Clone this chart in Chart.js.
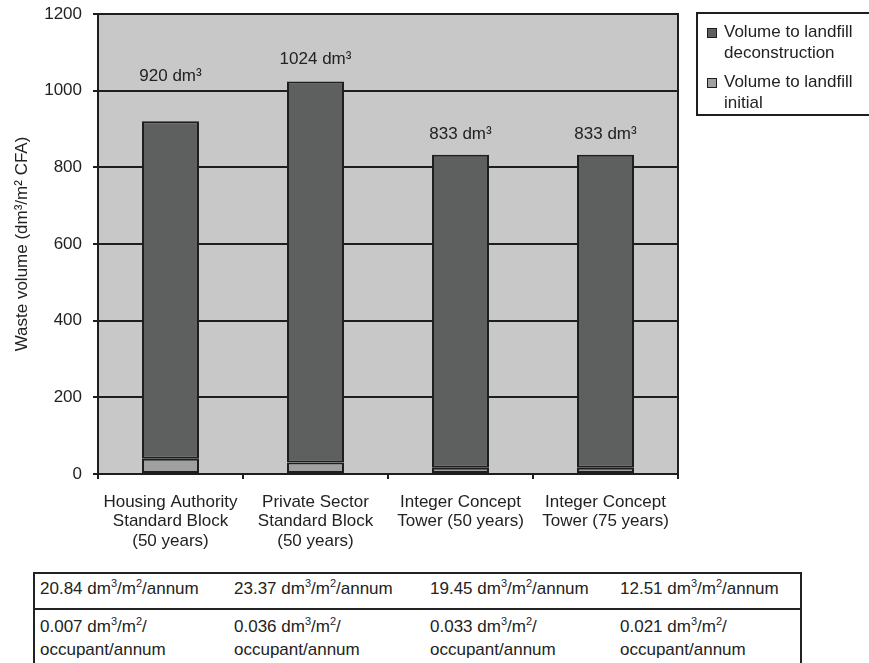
<!DOCTYPE html>
<html>
<head>
<meta charset="utf-8">
<title>Waste volume to landfill</title>
<script src="https://cdn.jsdelivr.net/npm/chart.js@4.4.0/dist/chart.umd.min.js"></script>
<style>
    html, body { margin: 0; padding: 0; background: #fff; }
    #page {
        width: 869px; height: 663px; overflow: hidden; position: relative;
        font-family: "Liberation Sans", Arial, Helvetica, sans-serif; color: #222;
    }
    #chartBox { position: absolute; left: 0; top: 0; width: 869px; height: 560px; }

    /* per-annum figures under the chart */
    #stats {
        position: absolute; left: 33px; top: 572px; width: 765px; height: 120px;
        border: 2px solid #222; font-size: 17px;
    }
    #stats .row { display: flex; }
    #stats .r1 { height: 29px; padding-top: 5px; line-height: 20px; border-bottom: 2px solid #222; }
    #stats .r2 { padding-top: 6px; line-height: 21px; }
    #stats .cell { padding-left: 5px; box-sizing: border-box; white-space: nowrap; }
</style>
</head>
<body>
<div id="page">
    <div id="chartBox"><canvas id="wasteChart" width="869" height="560"></canvas></div>
    <div id="stats"></div>
</div>

<script>
// Buildings compared
const buildings = [
    ['Housing Authority', 'Standard Block', '(50 years)'],
    ['Private Sector', 'Standard Block', '(50 years)'],
    ['Integer Concept', 'Tower (50 years)'],
    ['Integer Concept', 'Tower (75 years)']
];

// Waste volume, dm³/m² CFA
const initialVolume = [40, 30, 16, 16];
const deconstructionVolume = [880, 994, 817, 817];

// Figures listed under each building
const annualRate = ['20.84', '23.37', '19.45', '12.51'];
const occupantRate = ['0.007', '0.036', '0.033', '0.021'];

const yTicks = [0, 200, 400, 600, 800, 1000, 1200];

const colors = {
    plot: '#c8c8c8',
    deconstruction: '#5d605e',
    initial: '#a0a0a0',
    line: '#1e1e1e',
    text: '#222222'
};

const FONT = '"Liberation Sans", Arial, Helvetica, sans-serif';

// Legend entries (two lines each)
const legendItems = [
    { color: colors.deconstruction, lines: ['Volume to landfill', 'deconstruction'] },
    { color: colors.initial, lines: ['Volume to landfill', 'initial'] }
];

// Table of rates under the chart
const colWidths = [194, 196, 190, 185];
const sup = s => `<span style="font-size:11px;position:relative;top:-7px;">${s}</span>`;
document.getElementById('stats').innerHTML =
    '<div class="row r1">' + annualRate.map((v, i) =>
        `<div class="cell" style="width:${colWidths[i]}px">${v} dm${sup(3)}/m${sup(2)}/annum</div>`).join('') + '</div>' +
    '<div class="row r2">' + occupantRate.map((v, i) =>
        `<div class="cell" style="width:${colWidths[i]}px">${v} dm${sup(3)}/m${sup(2)}/<br>occupant/annum</div>`).join('') + '</div>';

// Grey plot background and frame
const plotFrame = {
    id: 'plotFrame',
    beforeDraw(chart) {
        const { ctx, chartArea: a } = chart;
        ctx.save();
        ctx.fillStyle = colors.plot;
        ctx.fillRect(a.left, a.top, a.right - a.left, a.bottom - a.top);
        ctx.restore();
    },
    afterDatasetsDraw(chart) {
        const { ctx, chartArea: a } = chart;
        ctx.save();
        ctx.strokeStyle = colors.line;
        ctx.lineWidth = 2;
        ctx.strokeRect(a.left, a.top, a.right - a.left, a.bottom - a.top);
        ctx.restore();
    }
};

// Boxed legend to the right of the plot, running off the canvas edge
const boxLegend = {
    id: 'boxLegend',
    afterDraw(chart) {
        const { ctx, chartArea: a } = chart;
        const left = a.right + 18, top = 12;
        ctx.save();
        ctx.strokeStyle = colors.line;
        ctx.lineWidth = 2;
        ctx.strokeRect(left + 1, top + 1, 300, 102);
        ctx.font = '17px ' + FONT;
        ctx.textBaseline = 'alphabetic';
        let y = top + 25;
        legendItems.forEach(item => {
            ctx.fillStyle = item.color;
            ctx.fillRect(left + 11, y - 9, 10, 10);
            ctx.lineWidth = 1;
            ctx.strokeRect(left + 11.5, y - 8.5, 9, 9);
            ctx.fillStyle = colors.text;
            item.lines.forEach((line, k) => ctx.fillText(line, left + 28, y + k * 21));
            y += 50;
        });
        ctx.restore();
    }
};

// Total volume written above each stack
const totalLabels = {
    id: 'totalLabels',
    afterDatasetsDraw(chart) {
        const { ctx, scales: { x, y } } = chart;
        const lift = [40, 17, 16, 16];
        ctx.save();
        ctx.fillStyle = colors.text;
        ctx.font = '17px ' + FONT;
        ctx.textAlign = 'center';
        ctx.textBaseline = 'alphabetic';
        buildings.forEach((b, i) => {
            const total = initialVolume[i] + deconstructionVolume[i];
            ctx.fillText(total + ' dm³', x.getPixelForValue(i), y.getPixelForValue(total) - lift[i]);
        });
        ctx.restore();
    }
};

const barStyle = {
    borderColor: colors.line,
    borderWidth: 2,
    borderSkipped: false,
    barPercentage: 0.393,
    categoryPercentage: 1.0
};

new Chart(document.getElementById('wasteChart'), {
    type: 'bar',
    data: {
        labels: buildings,
        datasets: [
            Object.assign({ label: 'Volume to landfill initial', data: initialVolume, backgroundColor: colors.initial }, barStyle),
            Object.assign({ label: 'Volume to landfill deconstruction', data: deconstructionVolume, backgroundColor: colors.deconstruction }, barStyle)
        ]
    },
    options: {
        responsive: false,
        animation: false,
        layout: { padding: { left: 0, top: 14, right: 191, bottom: 0 } },
        plugins: {
            legend: { display: false },
            tooltip: { enabled: false }
        },
        scales: {
            x: {
                stacked: true,
                afterFit(scale) {
                    scale.height = 86;
                    scale.paddingLeft = 0;
                    scale.paddingRight = 0;
                },
                grid: {
                    offset: true,
                    drawOnChartArea: false,
                    drawTicks: true,
                    tickLength: 5,
                    color: colors.line,
                    lineWidth: 2
                },
                border: { display: true, color: colors.line, width: 2 },
                ticks: {
                    color: colors.text,
                    padding: 13,
                    maxRotation: 0,
                    autoSkip: false,
                    font: { family: FONT, size: 17, lineHeight: 1.16 }
                }
            },
            y: {
                stacked: true,
                min: 0,
                max: 1200,
                afterFit(scale) {
                    scale.width = 98;
                    scale.paddingTop = 0;
                    scale.paddingBottom = 0;
                },
                afterBuildTicks(scale) { scale.ticks = yTicks.map(v => ({ value: v })); },
                grid: {
                    drawTicks: true,
                    tickLength: 5,
                    color: colors.line,
                    lineWidth: 2
                },
                border: { display: true, color: colors.line, width: 2 },
                ticks: {
                    color: colors.text,
                    padding: 11,
                    font: { family: FONT, size: 17 },
                    callback: v => String(v)
                },
                title: {
                    display: true,
                    text: 'Waste volume (dm³/m² CFA)',
                    color: colors.text,
                    padding: { top: 12, bottom: 0 },
                    font: { family: FONT, size: 17 }
                }
            }
        }
    },
    plugins: [plotFrame, totalLabels, boxLegend]
});
</script>
</body>
</html>
